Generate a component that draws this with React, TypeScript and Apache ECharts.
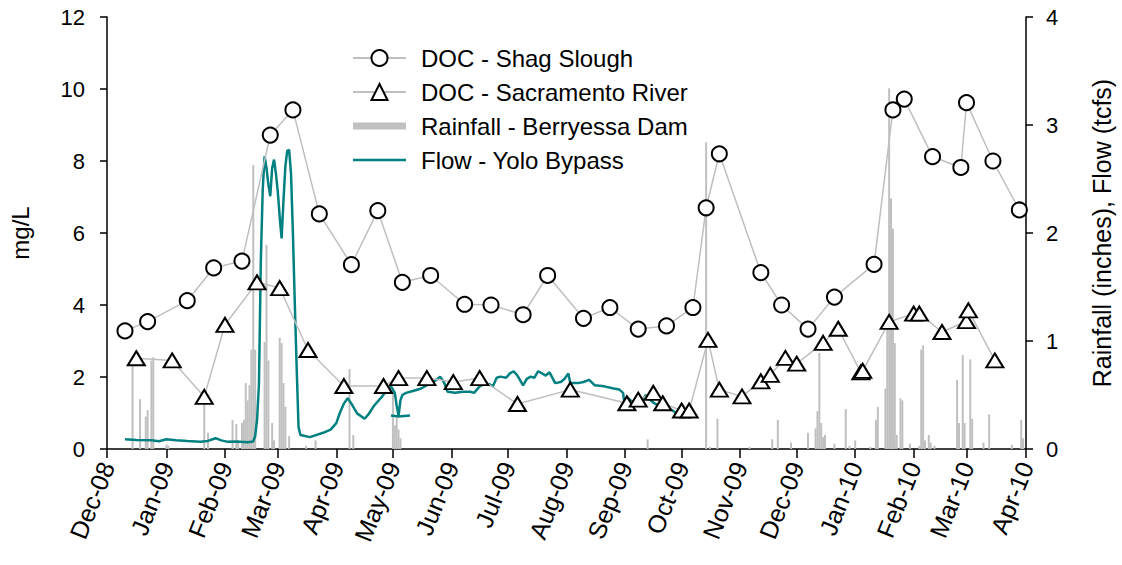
import React, { useEffect, useRef } from 'react';
import * as echarts from 'echarts';

const MONTHS = ['Jan', 'Feb', 'Mar', 'Apr', 'May', 'Jun', 'Jul', 'Aug', 'Sep', 'Oct', 'Nov', 'Dec'];

const shagDates = ['2008-12-10', '2008-12-22', '2009-01-12', '2009-01-26', '2009-02-10', '2009-02-25', '2009-03-09', '2009-03-23', '2009-04-09', '2009-04-23', '2009-05-06', '2009-05-21', '2009-06-08', '2009-06-22', '2009-07-09', '2009-07-22', '2009-08-10', '2009-08-24', '2009-09-08', '2009-09-23', '2009-10-07', '2009-10-14', '2009-10-21', '2009-11-12', '2009-11-23', '2009-12-07', '2009-12-21', '2010-01-11', '2010-01-21', '2010-01-27', '2010-02-11', '2010-02-26', '2010-03-01', '2010-03-15', '2010-03-29'];
const shagValues = [3.28, 3.54, 4.12, 5.03, 5.22, 8.72, 9.42, 6.53, 5.12, 6.62, 4.63, 4.82, 4.02, 4.0, 3.73, 4.82, 3.63, 3.93, 3.33, 3.42, 3.93, 6.7, 8.2, 4.9, 4.0, 3.33, 4.22, 5.13, 9.42, 9.72, 8.12, 7.82, 9.62, 8.0, 6.64];

const sacDates = ['2008-12-16', '2009-01-04', '2009-01-21', '2009-02-01', '2009-02-18', '2009-03-02', '2009-03-17', '2009-04-05', '2009-04-26', '2009-05-04', '2009-05-19', '2009-06-02', '2009-06-16', '2009-07-06', '2009-08-03', '2009-09-02', '2009-09-08', '2009-09-16', '2009-09-21', '2009-10-01', '2009-10-05', '2009-10-15', '2009-10-21', '2009-11-02', '2009-11-12', '2009-11-17', '2009-11-25', '2009-12-01', '2009-12-15', '2009-12-23', '2010-01-04', '2010-01-05', '2010-01-19', '2010-02-01', '2010-02-04', '2010-02-16', '2010-03-01', '2010-03-02', '2010-03-16'];
const sacValues = [2.52, 2.46, 1.45, 3.45, 4.63, 4.47, 2.75, 1.75, 1.75, 1.97, 1.97, 1.86, 1.97, 1.25, 1.65, 1.27, 1.37, 1.56, 1.27, 1.07, 1.07, 3.03, 1.65, 1.46, 1.88, 2.06, 2.53, 2.37, 2.95, 3.34, 2.13, 2.17, 3.53, 3.76, 3.76, 3.25, 3.55, 3.85, 2.46];

const rainDates = ['2008-12-14', '2008-12-18', '2008-12-21', '2008-12-22', '2008-12-24', '2008-12-25', '2009-01-01', '2009-01-02', '2009-01-21', '2009-01-23', '2009-02-05', '2009-02-07', '2009-02-08', '2009-02-10', '2009-02-11', '2009-02-12', '2009-02-13', '2009-02-14', '2009-02-15', '2009-02-16', '2009-02-17', '2009-02-22', '2009-02-23', '2009-02-24', '2009-02-26', '2009-02-27', '2009-03-02', '2009-03-03', '2009-03-04', '2009-03-05', '2009-03-07', '2009-03-16', '2009-03-21', '2009-04-08', '2009-04-10', '2009-05-01', '2009-05-02', '2009-05-03', '2009-05-04', '2009-05-05', '2009-09-13', '2009-10-14', '2009-10-16', '2009-10-20', '2009-11-06', '2009-11-18', '2009-11-21', '2009-11-28', '2009-12-07', '2009-12-11', '2009-12-12', '2009-12-13', '2009-12-14', '2009-12-15', '2009-12-16', '2009-12-21', '2009-12-27', '2009-12-29', '2010-01-01', '2010-01-09', '2010-01-12', '2010-01-13', '2010-01-17', '2010-01-18', '2010-01-19', '2010-01-20', '2010-01-21', '2010-01-22', '2010-01-23', '2010-01-25', '2010-01-26', '2010-01-30', '2010-02-04', '2010-02-05', '2010-02-06', '2010-02-07', '2010-02-09', '2010-02-10', '2010-02-12', '2010-02-24', '2010-02-25', '2010-02-27', '2010-02-28', '2010-03-03', '2010-03-04', '2010-03-10', '2010-03-13', '2010-03-25', '2010-03-30', '2010-03-31'];
const rainValues = [0.85, 0.46, 0.3, 0.36, 0.82, 0.85, 0.04, 0.03, 0.48, 0.15, 0.27, 0.23, 0.08, 0.24, 0.27, 0.61, 0.45, 0.59, 0.92, 2.63, 0.92, 0.99, 1.89, 0.82, 0.24, 0.08, 1.03, 0.98, 0.61, 0.39, 0.12, 0.03, 0.08, 0.74, 0.13, 0.56, 0.22, 0.29, 0.18, 0.1, 0.09, 2.84, 0.02, 0.28, 0.02, 0.09, 0.27, 0.06, 0.15, 0.19, 0.35, 0.89, 0.24, 0.11, 0.13, 0.05, 0.37, 0.03, 0.08, 0.02, 0.27, 0.39, 0.56, 1.21, 3.34, 2.32, 2.04, 0.98, 0.13, 0.47, 0.45, 0.05, 0.03, 0.92, 0.96, 0.08, 0.13, 0.06, 0.03, 0.64, 0.24, 0.87, 0.24, 0.83, 0.28, 0.06, 0.32, 0.04, 0.27, 0.1];

const flowDates = ['2008-12-10', '2008-12-16', '2008-12-24', '2008-12-28', '2009-01-01', '2009-01-06', '2009-01-12', '2009-01-19', '2009-01-23', '2009-01-27', '2009-01-30', '2009-02-02', '2009-02-07', '2009-02-13', '2009-02-16', '2009-02-17', '2009-02-18', '2009-02-19', '2009-02-20', '2009-02-21', '2009-02-22', '2009-02-23', '2009-02-24', '2009-02-25', '2009-02-26', '2009-02-27', '2009-02-28', '2009-03-01', '2009-03-02', '2009-03-03', '2009-03-04', '2009-03-05', '2009-03-06', '2009-03-07', '2009-03-08', '2009-03-09', '2009-03-10', '2009-03-11', '2009-03-12', '2009-03-13', '2009-03-18', '2009-03-25', '2009-03-29', '2009-04-01', '2009-04-03', '2009-04-05', '2009-04-07', '2009-04-09', '2009-04-12', '2009-04-16', '2009-04-18', '2009-04-21', '2009-04-25', '2009-04-28', '2009-04-30', '2009-05-01', '2009-05-02', '2009-05-03', '2009-05-04', '2009-05-05', '2009-05-06', '2009-05-08', '2009-05-12', '2009-05-16', '2009-05-20', '2009-05-24', '2009-05-26', '2009-05-28', '2009-05-30', '2009-06-03', '2009-06-07', '2009-06-11', '2009-06-13', '2009-06-16', '2009-06-19', '2009-06-21', '2009-06-23', '2009-06-25', '2009-06-27', '2009-06-30', '2009-07-02', '2009-07-04', '2009-07-06', '2009-07-08', '2009-07-09', '2009-07-11', '2009-07-13', '2009-07-15', '2009-07-17', '2009-07-19', '2009-07-21', '2009-07-23', '2009-07-26', '2009-07-29', '2009-07-31', '2009-08-02', '2009-08-03', '2009-08-07', '2009-08-10', '2009-08-13', '2009-08-16', '2009-08-21', '2009-08-26', '2009-08-29', '2009-08-31', '2009-09-01', '2009-09-02', '2009-09-04', '2009-09-06', '2009-09-08', '2009-09-10', '2009-09-12', '2009-09-14', '2009-09-16', '2009-09-18', '2009-09-20', '2009-09-23', '2009-09-26', '2009-09-29', '2009-09-30'];
const flowValues = [0.09, 0.083, 0.08, 0.072, 0.09, 0.08, 0.074, 0.068, 0.075, 0.1, 0.08, 0.068, 0.07, 0.062, 0.07, 0.12, 0.27, 0.6, 1.75, 2.4, 2.71, 2.6, 2.45, 2.34, 2.6, 2.68, 2.55, 2.38, 2.15, 1.95, 2.3, 2.62, 2.76, 2.77, 2.55, 2.0, 1.35, 0.75, 0.2, 0.13, 0.11, 0.15, 0.18, 0.24, 0.34, 0.42, 0.47, 0.42, 0.33, 0.28, 0.32, 0.4, 0.48, 0.55, 0.58, 0.55, 0.52, 0.4, 0.31, 0.45, 0.5, 0.52, 0.54, 0.56, 0.6, 0.64, 0.67, 0.62, 0.53, 0.52, 0.53, 0.53, 0.52, 0.58, 0.61, 0.6, 0.58, 0.66, 0.67, 0.66, 0.7, 0.72, 0.68, 0.62, 0.59, 0.65, 0.67, 0.66, 0.72, 0.7, 0.68, 0.71, 0.61, 0.62, 0.65, 0.7, 0.61, 0.61, 0.62, 0.64, 0.59, 0.58, 0.56, 0.55, 0.52, 0.38, 0.48, 0.45, 0.42, 0.46, 0.44, 0.5, 0.46, 0.43, 0.41, 0.42, 0.38, 0.36, 0.32, 0.31];
const flowTailDates = ['2009-04-30', '2009-05-04', '2009-05-10'];
const flowTailValues = [0.31, 0.3, 0.31];

const FONT = "'Liberation Sans', Arial, sans-serif";
const DAY = 86400000;

function pairs(d: string[], v: number[]) {
  return d.map((x, i) => [x, v[i]]);
}

export default function App() {
  const ref = useRef<HTMLDivElement>(null);
  useEffect(() => {
    const chart = echarts.init(ref.current!, null, { renderer: 'svg' });
    const flowData: any[] = pairs(flowDates, flowValues);
    flowData.push([flowTailDates[0], '-']);
    pairs(flowTailDates, flowTailValues).forEach((p) => flowData.push(p));

    chart.setOption({
      animation: false,
      textStyle: { fontFamily: FONT, color: '#000' },
      grid: { left: 107, right: 95, top: 17, bottom: 116 },
      legend: {
        orient: 'vertical',
        left: 352,
        top: 46,
        padding: 0,
        itemWidth: 53,
        itemHeight: 20,
        itemGap: 10,
        textStyle: { fontSize: 24, color: '#000', fontFamily: FONT, lineHeight: 24, padding: [0, 0, 0, 10] },
        data: [
          { name: 'DOC - Shag Slough' },
          { name: 'DOC - Sacramento River' },
          { name: 'Rainfall - Berryessa Dam', icon: 'path://M0,0H60V8H0Z' },
          { name: 'Flow - Yolo Bypass', icon: 'path://M0,0H60V3H0Z' },
        ],
      },
      xAxis: {
        type: 'time',
        min: new Date(2008, 11, 1).getTime(),
        max: new Date(2010, 3, 1).getTime(),
        splitNumber: 16,
        minInterval: 28 * DAY,
        maxInterval: 31 * DAY,
        axisLine: { lineStyle: { color: '#000', width: 1.5 } },
        axisTick: { show: true, length: 9, lineStyle: { color: '#000', width: 1.5 } },
        splitLine: { show: false },
        axisLabel: {
          rotate: 68,
          fontSize: 25,
          color: '#000',
          fontFamily: FONT,
          margin: 14,
          hideOverlap: false,
          showMinLabel: true,
          showMaxLabel: true,
          formatter: (val: number) => {
            const d = new Date(val + 3 * DAY);
            return MONTHS[d.getMonth()] + '-' + String(d.getFullYear()).slice(2);
          },
        },
      },
      yAxis: [
        {
          type: 'value',
          min: 0,
          max: 12,
          interval: 2,
          position: 'left',
          axisLine: { show: true, lineStyle: { color: '#000', width: 1.5 } },
          axisTick: { show: true, length: 7, lineStyle: { color: '#000', width: 1.5 } },
          axisLabel: { fontSize: 22, color: '#000', fontFamily: FONT, margin: 22 },
          splitLine: { show: false },
          name: 'mg/L',
          nameLocation: 'middle',
          nameRotate: 90,
          nameGap: 75,
          nameTextStyle: { fontSize: 24, color: '#000', fontFamily: FONT },
        },
        {
          type: 'value',
          min: 0,
          max: 4,
          interval: 1,
          position: 'right',
          axisLine: { show: true, lineStyle: { color: '#000', width: 1.5 } },
          axisTick: { show: true, length: 7, lineStyle: { color: '#000', width: 1.5 } },
          axisLabel: { fontSize: 22, color: '#000', fontFamily: FONT, margin: 20 },
          splitLine: { show: false },
          name: 'Rainfall (inches), Flow (tcfs)',
          nameLocation: 'middle',
          nameRotate: 90,
          nameGap: 63,
          nameTextStyle: { fontSize: 25, color: '#000', fontFamily: FONT },
        },
      ],
      series: [
        {
          name: 'Rainfall - Berryessa Dam',
          type: 'bar',
          yAxisIndex: 1,
          barWidth: 2,
          itemStyle: { color: '#c0c0c0' },
          data: pairs(rainDates, rainValues),
          z: 1,
        },
        {
          name: 'Flow - Yolo Bypass',
          type: 'line',
          yAxisIndex: 1,
          symbol: 'none',
          color: '#008080',
          lineStyle: { color: '#008080', width: 2.5 },
          itemStyle: { color: '#008080' },
          data: flowData,
          connectNulls: false,
          z: 2,
        },
        {
          name: 'DOC - Shag Slough',
          type: 'line',
          yAxisIndex: 0,
          symbol: 'circle',
          symbolSize: 15,
          showSymbol: true,
          lineStyle: { color: '#bfbfbf', width: 1.5 },
          itemStyle: { color: '#fff', borderColor: '#000', borderWidth: 2 },
          data: pairs(shagDates, shagValues),
          z: 3,
        },
        {
          name: 'DOC - Sacramento River',
          type: 'line',
          yAxisIndex: 0,
          symbol: 'triangle',
          symbolSize: [17, 14],
          showSymbol: true,
          lineStyle: { color: '#bfbfbf', width: 1.5 },
          itemStyle: { color: '#fff', borderColor: '#000', borderWidth: 2 },
          data: pairs(sacDates, sacValues),
          z: 4,
        },
      ],
    });
    return () => chart.dispose();
  }, []);
  return <div ref={ref} style={{ position: 'absolute', left: 0, top: 0, width: 1122, height: 565 }} />;
}
